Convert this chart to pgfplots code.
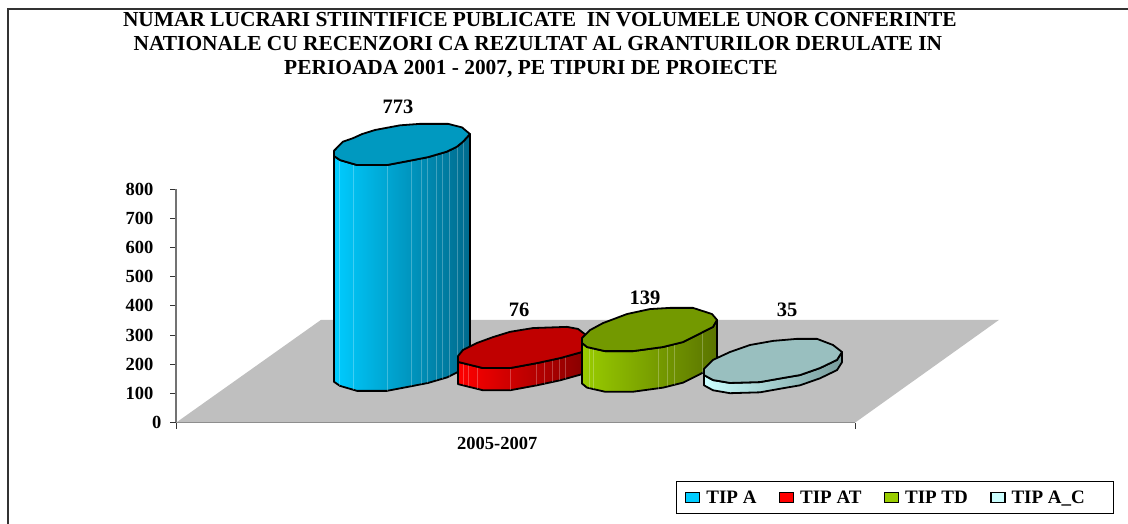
\documentclass[border=0pt]{standalone}
\usepackage{fontspec}
\setmainfont{Liberation Serif}
\usepackage{pgfplots}
\pgfplotsset{compat=1.18}

\definecolor{capA}{HTML}{0099C0}
\definecolor{capAT}{HTML}{C00000}
\definecolor{capTD}{HTML}{739900}
\definecolor{capAC}{HTML}{99BFBF}

\begin{document}
\begin{tikzpicture}[x=1pt,y=1pt]
  \begin{axis}[
      at={(176pt,101.3pt)},
      anchor=south west,
      scale only axis,
      width=679pt,
      height=233.7pt,
      clip=false,
      xmin=176, xmax=855,
      ymin=0, ymax=800,
      axis x line*=bottom,
      axis y line*=left,
      separate axis lines,
      x axis line style={line width=1.3pt, draw=black!80, -},
      y axis line style={line width=2pt, draw=black!55, -},
      tick style={line width=1pt, draw=black!80},
      tick align=outside,
      major tick length=6pt,
      xtick={176,855},
      xticklabels={},
      ytick={100,200,300,400,500,600,700,800},
      extra y ticks={0},
      extra y tick style={yticklabel style={xshift=8pt}},
      tick label style={font=\fontsize{18.5}{22}\selectfont\bfseries},
      yticklabel style={xshift=-13pt},
      /pgf/number format/assume math mode=true,
      xlabel={2005-2007},
      xlabel style={at={(0.473,-0.0885)}, anchor=center,
        font=\fontsize{18.5}{22}\selectfont\bfseries},
      title={NUMAR LUCRARI STIINTIFICE PUBLICATE \ IN VOLUMELE UNOR CONFERINTE\\
        NATIONALE CU RECENZORI CA REZULTAT AL GRANTURILOR DERULATE IN\rule{4pt}{0pt}\\
        PERIOADA 2001 - 2007, PE TIPURI DE PROIECTE\rule{18pt}{0pt}},
      title style={at={(0.536,1.7445)}, anchor=north, align=center,
        font=\fontsize{21.4}{23.7}\selectfont\bfseries},
      legend columns=4,
      legend cell align=left,
      legend style={at={(0.736,-0.2495)}, anchor=north west,
        draw=black, line width=1pt, inner xsep=9pt, inner ysep=7pt,
        font=\fontsize{19}{21}\selectfont\bfseries,
        /tikz/every even column/.style={column sep=20.5pt},
        /tikz/every odd column/.style={column sep=4pt}},
    ]
    % floor of the 3D box
    \addplot[fill=black!25, draw=none, forget plot] coordinates {
      (176,0) (321,352) (999,352) (855,0)} -- cycle;

    % TIP A = 773
    \addplot[draw=black, line width=1.8pt, line join=round,
        left color={rgb,255:red,0;green,204;blue,255},
        right color={rgb,255:red,0;green,106;blue,140}, forget plot] coordinates {
      (334,913) (340,899) (357,882) (387,882) (410,897) (428,909) (447,928)
      (457,945) (463,962) (470,988)
      (470,215) (463,189) (457,172) (447,155) (428,136) (410,124) (387,109)
      (357,109) (340,126) (334,140)} -- cycle;
    \addplot[white, opacity=0.25, line width=0.7pt, unbounded coords=jump, forget plot] coordinates {
      (339,127) (339,900) (339,nan)
      (353,113) (353,886) (353,nan)
      (387,110) (387,881) (387,nan)
      (411,126) (411,896) (411,nan)
      (421,132) (421,904) (421,nan)
      (427,136) (427,908) (427,nan)
      (436,146) (436,917) (436,nan)
      (442,151) (442,923) (442,nan)
      (449,158) (449,930) (449,nan)
      (457,173) (457,944) (457,nan)
      (463,190) (463,961)};
    \addplot[fill=capA, draw=black, line width=1.8pt, line join=round, forget plot] coordinates {
      (334,931) (343,962) (353,974) (362,988) (375,1002) (400,1018) (420,1023)
      (448,1023) (462,1011) (470,988) (463,962) (457,945) (447,928) (428,909)
      (410,897) (387,882) (357,882) (340,899) (334,913)} -- cycle;

    % TIP AT = 76
    \addplot[draw=black, line width=1.8pt, line join=round,
        left color={rgb,255:red,255;green,0;blue,0},
        right color={rgb,255:red,130;green,0;blue,0}, forget plot] coordinates {
      (458,208) (483,187) (510,187) (537,204) (560,221) (582,242) (590,290)
      (590,214) (582,166) (560,145) (537,128) (510,111) (483,111) (458,132)} -- cycle;
    \addplot[white, opacity=0.25, line width=0.7pt, unbounded coords=jump, forget plot] coordinates {
      (463,128) (463,203) (463,nan)
      (468,124) (468,199) (468,nan)
      (477,116) (477,191) (477,nan)
      (510,112) (510,186) (510,nan)
      (536,128) (536,203) (536,nan)
      (544,133) (544,208) (544,nan)
      (552,139) (552,214) (552,nan)
      (559,145) (559,220) (559,nan)
      (565,151) (565,226)};
    \addplot[fill=capAT, draw=black, line width=1.8pt, line join=round, forget plot] coordinates {
      (458,228) (463,249) (477,273) (493,293) (510,311) (533,324) (567,328)
      (578,321) (590,290) (582,242) (560,221) (537,204) (510,187) (483,187) (458,208)} -- cycle;

    % TIP TD = 139
    \addplot[draw=black, line width=1.8pt, line join=round,
        left color={rgb,255:red,153;green,204;blue,0},
        right color={rgb,255:red,90;green,116;blue,0}, forget plot] coordinates {
      (582,273) (587,259) (605,245) (633,245) (663,259) (683,276) (697,300)
      (713,328) (717,352)
      (717,213) (713,189) (697,161) (683,137) (663,120) (633,106) (605,106)
      (587,120) (582,134)} -- cycle;
    \addplot[white, opacity=0.25, line width=0.7pt, unbounded coords=jump, forget plot] coordinates {
      (589,119) (589,257) (589,nan)
      (593,115) (593,253) (593,nan)
      (658,117) (658,255) (658,nan)
      (667,124) (667,262) (667,nan)
      (674,130) (674,268) (674,nan)
      (702,170) (702,308)};
    \addplot[fill=capTD, draw=black, line width=1.8pt, line join=round, forget plot] coordinates {
      (582,290) (590,317) (603,341) (627,372) (650,389) (670,393) (693,393)
      (712,372) (717,352) (713,328) (697,300) (683,276) (663,259) (633,245)
      (605,245) (587,259) (582,273)} -- cycle;

    % TIP A_C = 35
    \addplot[draw=black, line width=1.8pt, line join=round,
        left color={rgb,255:red,204;green,255;blue,255},
        right color={rgb,255:red,120;green,155;blue,155}, forget plot] coordinates {
      (704,163) (713,146) (730,136) (760,139) (783,153) (800,163) (820,187)
      (837,215) (842,242)
      (842,207) (837,180) (820,152) (800,128) (783,118) (760,104) (730,101)
      (713,111) (704,128)} -- cycle;
    \addplot[fill=capAC, draw=black, line width=1.8pt, line join=round, forget plot] coordinates {
      (704,184) (713,215) (730,242) (750,266) (773,280) (797,287) (817,287)
      (833,266) (842,242) (837,215) (820,187) (800,163) (783,153) (760,139)
      (730,136) (713,146) (704,163)} -- cycle;

    % value labels
    \addplot[draw=none, mark=none, forget plot, point meta=explicit symbolic,
        nodes near coords,
        every node near coord/.style={anchor=center, inner sep=0pt,
          font=\fontsize{20.5}{22}\selectfont\bfseries}] coordinates {
      (398,1082) [773]
      (519,385) [76]
      (645,429) [139]
      (787,385) [35]};

    % legend swatches
    \addlegendimage{legend image code/.code={\draw[fill={rgb,255:red,0;green,204;blue,255},draw=black,line width=1.1pt] (0pt,-5pt) rectangle (14pt,5pt);}}
    \addlegendentry{TIP A}
    \addlegendimage{legend image code/.code={\draw[fill=red,draw=black,line width=1.1pt] (0pt,-5pt) rectangle (14pt,5pt);}}
    \addlegendentry{TIP AT}
    \addlegendimage{legend image code/.code={\draw[fill={rgb,255:red,153;green,204;blue,0},draw=black,line width=1.1pt] (0pt,-5pt) rectangle (14pt,5pt);}}
    \addlegendentry{TIP TD}
    \addlegendimage{legend image code/.code={\draw[fill={rgb,255:red,204;green,255;blue,255},draw=black,line width=1.1pt] (0pt,-5pt) rectangle (14pt,5pt);}}
    \addlegendentry{TIP A\_C\rule{18pt}{0pt}}
  \end{axis}
  % outer chart frame, cut off on the right and at the bottom
  \draw[black!80, line width=1.1pt] (8pt,0pt) -- (8pt,515pt) -- (1128pt,515pt);
  \pgfresetboundingbox
  \path[use as bounding box] (0pt,0pt) rectangle (1128pt,524pt);
\end{tikzpicture}
\end{document}
